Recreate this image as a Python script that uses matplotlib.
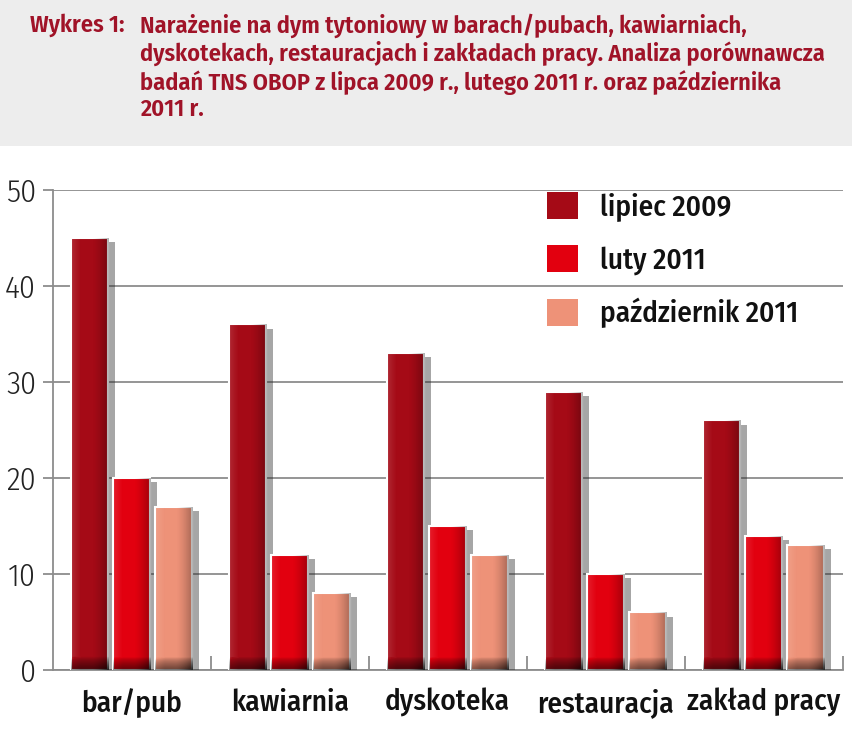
#!/usr/bin/env python3

import numpy as np
import matplotlib
matplotlib.use('Agg')
import matplotlib.pyplot as plt
import matplotlib.patheffects as pe
from matplotlib.patches import Rectangle

categories = ['bar/pub', 'kawiarnia', 'dyskoteka', 'restauracja', 'zakład pracy']
series_names = ['lipiec 2009', 'luty 2011', 'październik 2011']
lipiec_2009 = [45, 36, 33, 29, 26]
luty_2011 = [20, 12, 15, 10, 14]
pazdziernik_2011 = [17, 8, 12, 6, 13]
y_ticks = [0, 10, 20, 30, 40, 50]

title_head = 'Wykres 1:'
title_body = ('Narażenie na dym tytoniowy w barach/pubach, kawiarniach,\n'
              'dyskotekach, restauracjach i zakładach pracy. Analiza porównawcza\n'
              'badań TNS OBOP z lipca 2009 r., lutego 2011 r. oraz października\n'
              '2011 r.')

FONT = ['Fira Sans Condensed', 'DejaVu Sans']
plt.rcParams['font.family'] = FONT

colors = ['#a50a16', '#e2000f', '#ee9278']
series = [lipiec_2009, luty_2011, pazdziernik_2011]
grey = '#8c8c8c'


def shade(ax, bar):
    # glossy look: lighter left edge, darker right edge, dark foot
    x0, w, h = bar.get_x(), bar.get_width(), bar.get_height()
    ny, nx = 300, 40
    xs = np.linspace(0, 1, nx)[None, :]
    ys = np.linspace(0, h, ny)[:, None]
    s = -0.12 * np.clip(1 - xs / 0.25, 0, 1) + 0.30 * np.clip((xs - 0.55) / 0.45, 0, 1) ** 1.5
    s = s + 0.55 * np.clip(1 - ys / 1.3, 0, 1) ** 0.7
    rgba = np.zeros((ny, nx, 4))
    rgba[..., :3] = np.where(s[..., None] < 0, 1.0, 0.0)
    rgba[..., 3] = np.clip(np.abs(s), 0, 1)
    im = ax.imshow(rgba, extent=(x0, x0 + w, 0, h), origin='lower', aspect='auto',
                   interpolation='bilinear', zorder=3.5)
    im.set_clip_path(bar)


fig = plt.figure(figsize=(8.52, 7.31), dpi=100)
fig.patch.set_facecolor('white')

# light smoky band behind the title
fig.patches.append(Rectangle((0, 0.80), 1, 0.20, transform=fig.transFigure,
                             facecolor='#ededed', edgecolor='none', zorder=0))

ax = fig.add_axes([0.062, 0.0834, 0.927, 0.6566])
ax.set_facecolor('none')

x = np.arange(len(categories))
width = 0.235
offsets = [-0.266, 0, 0.266]
shadow = [pe.SimplePatchShadow(offset=(5, -3), shadow_rgbFace='#222222', alpha=0.4),
          pe.Normal()]

for vals, off, col, name in zip(series, offsets, colors, series_names):
    bars = ax.bar(x + off, vals, width, color=col, edgecolor='white', linewidth=1.5,
                  label=name, zorder=3)
    for b in bars:
        b.set_path_effects(shadow)
        shade(ax, b)

ax.set_xlim(-0.5, 4.5)
ax.set_ylim(0, 50)
ax.set_yticks(y_ticks)
ax.set_yticklabels([str(v) for v in y_ticks], fontsize=23, color='#222222', fontweight=300)
ax.yaxis.grid(True, color=grey, linewidth=1.3, zorder=0)
ax.set_axisbelow(True)

ax.set_xticks(x)
ax.set_xticklabels(categories, fontsize=21, fontweight=500, color='#111111')
ax.tick_params(axis='x', length=0, pad=13)
ax.set_xticks(np.arange(0.5, 5, 1), minor=True)
ax.tick_params(axis='x', which='minor', direction='in', length=10, color=grey, width=1.3)
ax.tick_params(axis='y', length=7, color=grey, width=1.3, pad=5)

for s in ['top', 'right']:
    ax.spines[s].set_visible(False)
for s in ['left', 'bottom']:
    ax.spines[s].set_color(grey)
    ax.spines[s].set_linewidth(1.3)

leg = ax.legend(loc='upper left', bbox_to_anchor=(547 / 852, 1 - 192 / 731),
                bbox_transform=fig.transFigure, frameon=False, borderpad=0, borderaxespad=0,
                handlelength=1.05, handleheight=1.05, labelspacing=0.8, handletextpad=0.75,
                prop={'family': FONT, 'weight': 500, 'size': 21})
for h in leg.legend_handles:
    h.set_path_effects([])
    h.set_edgecolor('none')
for t in leg.get_texts():
    t.set_color('#111111')

tcol = '#a01328'
fig.text(30 / 852, 1 - 13 / 731, title_head, fontsize=17.5, fontweight=600, color=tcol,
         va='top', ha='left')
fig.text(140 / 852, 1 - 13 / 731, title_body, fontsize=17.5, fontweight=600, color=tcol,
         va='top', ha='left', linespacing=1.17)

fig.savefig('out.png', dpi=100)
